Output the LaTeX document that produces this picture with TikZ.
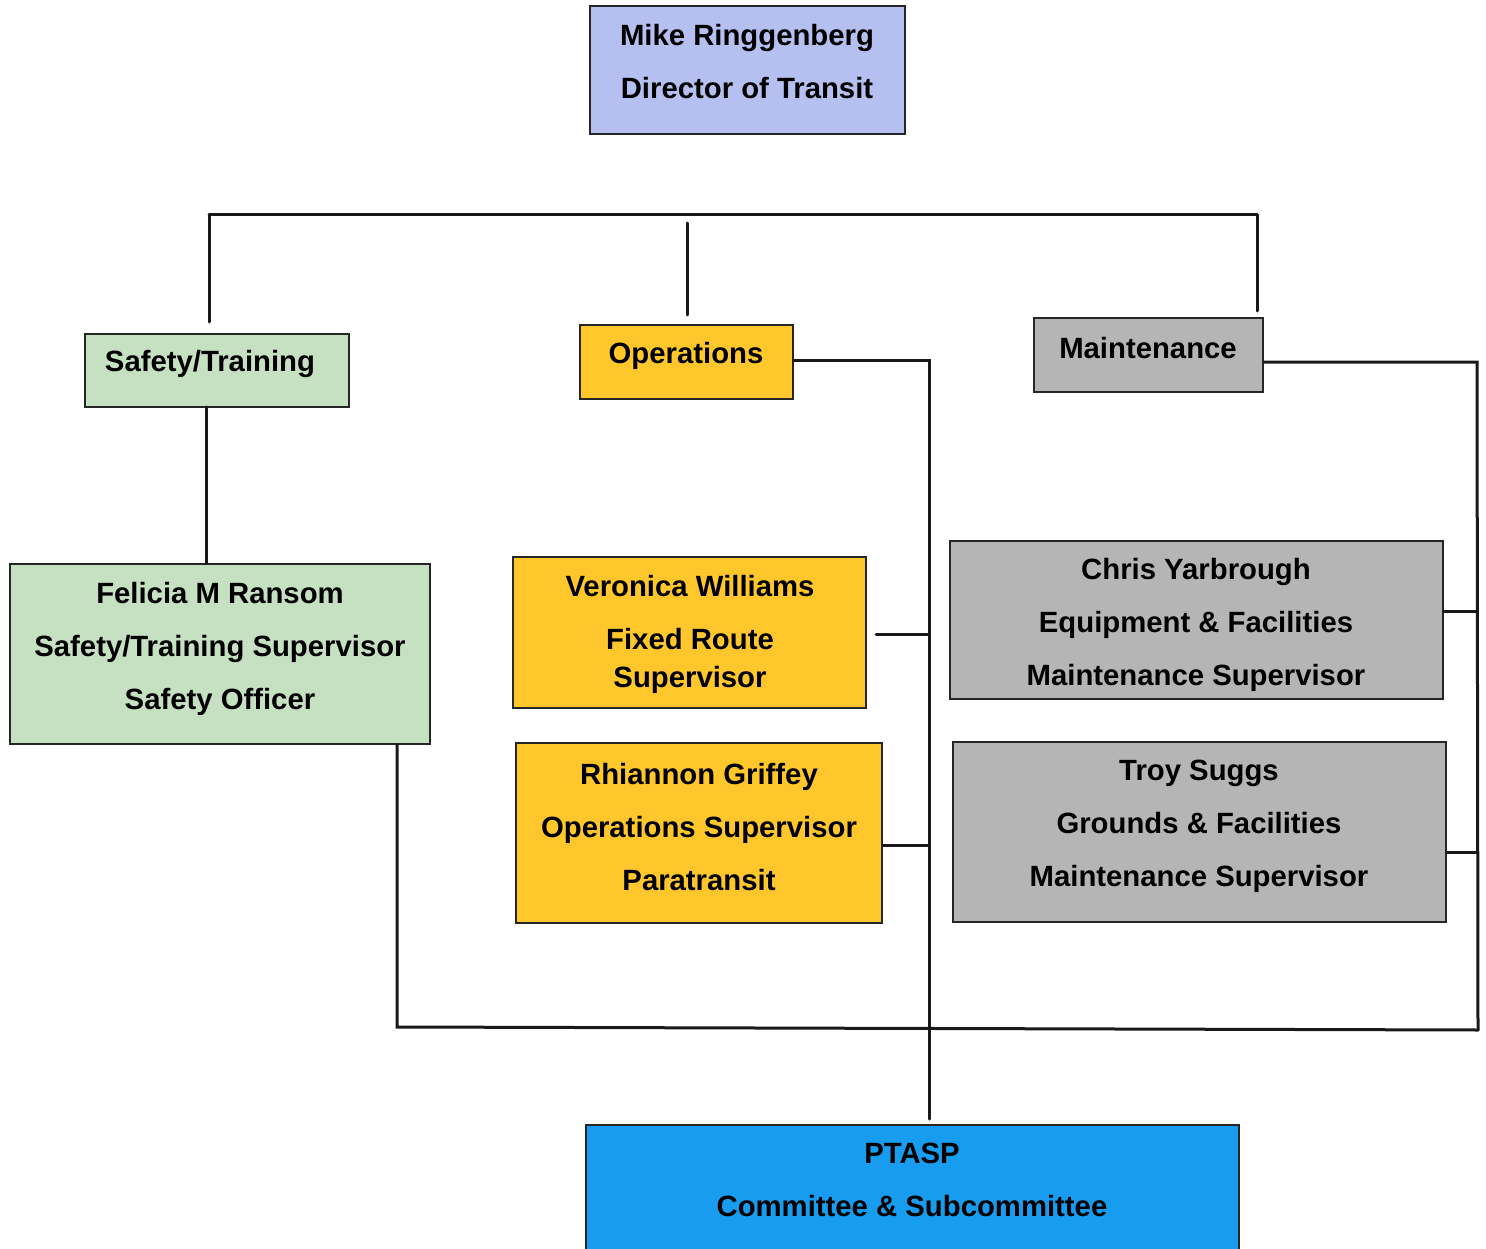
\documentclass[tikz,border=0pt]{standalone}
\usepackage{fontspec}
\setmainfont{Liberation Sans}
\definecolor{dirfill}{RGB}{181,192,240}
\definecolor{greenfill}{RGB}{198,224,194}
\definecolor{goldfill}{RGB}{255,199,44}
\definecolor{grayfill}{RGB}{181,181,181}
\definecolor{bluefill}{RGB}{24,156,240}
\tikzset{
  box/.style={draw=black!85, line width=2pt, inner sep=0pt, rectangle},
  txt/.style={align=center, inner sep=0pt, font=\bfseries\fontsize{29.3}{53}\selectfont, text=black},
  conn/.style={line width=3pt, black!90, line cap=round}
}
\begin{document}
\begin{tikzpicture}[x=1pt, y=-1pt]
\useasboundingbox[fill=white] (0,0) rectangle (1486,1249);
% boxes
\node[box, fill=dirfill, minimum width=315, minimum height=128] (dir) at (747.5,70) {};
\node[box, fill=greenfill, minimum width=264, minimum height=73] (safety) at (217,370.5) {};
\node[box, fill=goldfill, minimum width=213, minimum height=74] (ops) at (686.5,362) {};
\node[box, fill=grayfill, minimum width=229, minimum height=74] (maint) at (1148.5,355) {};
\node[box, fill=greenfill, minimum width=420, minimum height=180] (fel) at (220,654) {};
\node[box, fill=goldfill, minimum width=353, minimum height=151] (ver) at (689.5,632.5) {};
\node[box, fill=goldfill, minimum width=366, minimum height=180] (rhi) at (699,833) {};
\node[box, fill=grayfill, minimum width=493, minimum height=158] (chris) at (1196.5,620) {};
\node[box, fill=grayfill, minimum width=493, minimum height=180] (troy) at (1199.5,832) {};
\node[box, fill=bluefill, minimum width=653, minimum height=160] (ptasp) at (912.5,1205) {};
% texts
\node[txt] (dirT) at (747,62) {Mike Ringgenberg\\Director of Transit};
\node[txt] (safetyT) at (210,364) {Safety/Training};
\node[txt] (opsT) at (686,356) {Operations};
\node[txt] (maintT) at (1148,348) {Maintenance};
\node[txt] (felT) at (220,649) {Felicia M Ransom\\Safety/Training Supervisor\\Safety Officer};
\node[txt] (verT) at (690,634) {Veronica Williams\\Fixed Route\\[-15pt]Supervisor};
\node[txt] (rhiT) at (699,827) {Rhiannon Griffey\\Operations Supervisor\\Paratransit};
\node[txt] (chrisT) at (1196,625) {Chris Yarbrough\\Equipment \& Facilities\\Maintenance Supervisor};
\node[txt] (troyT) at (1199,826) {Troy Suggs\\Grounds \& Facilities\\Maintenance Supervisor};
\node[txt] (ptaspT) at (912,1180) {PTASP\\Committee \& Subcommittee};
% connector coordinates
\coordinate (barL) at (209,215);
\coordinate (barR) at (1257,215);
\coordinate (midtop) at (687,223);
\coordinate (sf) at (206,407);
\coordinate (opsR) at (929,360);
\coordinate (mR) at (1477,362);
\coordinate (fb) at (397,1027);
\coordinate (botR) at (1478,1030);
% connectors
\draw[conn] (barL) -- (barR);
\draw[conn, shorten >=11pt] (barL) -- (barL |- safety.north);
\draw[conn, shorten >=6pt] (barR) -- (barR |- maint.north);
\draw[conn, shorten >=9pt] (midtop) -- (midtop |- ops.north);
\draw[conn] (sf) -- (sf |- fel.north);
\draw[conn, shorten >=5pt] (ops.east |- opsR) -- (opsR) -- (opsR |- ptasp.north);
\draw[conn] ([xshift=9pt,yshift=-1.5pt]ver.east) coordinate (ve) -- (ve -| opsR);
\draw[conn] ([yshift=-12pt]rhi.east) coordinate (re) -- (re -| opsR);
\draw[conn] (maint.east |- mR) -- (mR) -- (botR);
\draw[conn] ([yshift=9pt]chris.east) coordinate (ce) -- (ce -| mR);
\draw[conn] ([yshift=-20pt]troy.east) coordinate (te) -- (te -| mR);
\draw[conn] (fel.south -| fb) -- (fb) -- (botR);
\end{tikzpicture}
\end{document}
